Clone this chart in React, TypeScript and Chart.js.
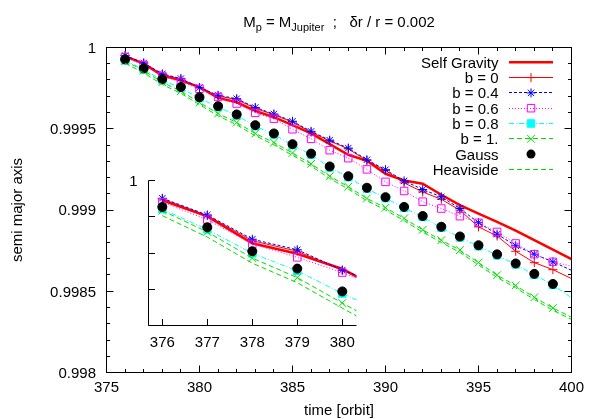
import React, { useEffect, useRef } from 'react';
import { Chart, registerables } from 'chart.js';
Chart.register(...registerables);

const time = [376, 377, 378, 379, 380, 381, 382, 383, 384, 385, 386, 387, 388, 389, 390, 391, 392, 393, 394, 395, 396, 397, 398, 399, 400];
const selfGravity = [0.999945, 0.999901, 0.999827, 0.999798, 0.999756, 0.99969, 0.999663, 0.99961, 0.999571, 0.999522, 0.999471, 0.999405, 0.99934, 0.999303, 0.999223, 0.999181, 0.999162, 0.999094, 0.99903, 0.998978, 0.998927, 0.998873, 0.998814, 0.998756, 0.998697];
const b00 = [0.999949, 0.999903, 0.999834, 0.999805, 0.999752, 0.999701, 0.99968, 0.999626, 0.999586, 0.999541, 0.999479, 0.999425, 0.999376, 0.999304, 0.999243, 0.999167, 0.999111, 0.999066, 0.998999, 0.998896, 0.99884, 0.998746, 0.998676, 0.998633, 0.998578];
const b04 = [0.999951, 0.999905, 0.999838, 0.999809, 0.999753, 0.999706, 0.999685, 0.999631, 0.999591, 0.999546, 0.999484, 0.99943, 0.999381, 0.999309, 0.999248, 0.999179, 0.999126, 0.999081, 0.999009, 0.998922, 0.998851, 0.99878, 0.998728, 0.998681, 0.998629];
const b06 = [0.99994, 0.999892, 0.999825, 0.999788, 0.999746, 0.999696, 0.999655, 0.999598, 0.999562, 0.999497, 0.999438, 0.999368, 0.999319, 0.99925, 0.999173, 0.999117, 0.999051, 0.999009, 0.998962, 0.998921, 0.998865, 0.998794, 0.998728, 0.998681, 0.998654];
const b08 = [0.999921, 0.999865, 0.999799, 0.999751, 0.999688, 0.999633, 0.999582, 0.999516, 0.999465, 0.999399, 0.999341, 0.999262, 0.999202, 0.999131, 0.999073, 0.999013, 0.998957, 0.998891, 0.998831, 0.998777, 0.998721, 0.998665, 0.998601, 0.998539, 0.99846];
const b10 = [0.999917, 0.999858, 0.999786, 0.999732, 0.999662, 0.999594, 0.999538, 0.999471, 0.999415, 0.999351, 0.999284, 0.999208, 0.999143, 0.999071, 0.999014, 0.998948, 0.998878, 0.998814, 0.998753, 0.998676, 0.998599, 0.998535, 0.998463, 0.998397, 0.99834];
const gauss = [0.999927, 0.999871, 0.999805, 0.999757, 0.999694, 0.999639, 0.999588, 0.999522, 0.999471, 0.999405, 0.999347, 0.999268, 0.999208, 0.999137, 0.999079, 0.999019, 0.998963, 0.998897, 0.998837, 0.998783, 0.998727, 0.998671, 0.998607, 0.998545];
const heaviside = [0.999903, 0.999844, 0.999772, 0.999718, 0.999648, 0.99958, 0.999524, 0.999457, 0.999401, 0.999337, 0.99927, 0.999194, 0.999129, 0.999057, 0.999, 0.998934, 0.998864, 0.9988, 0.998739, 0.998662, 0.998585, 0.998521, 0.998449, 0.998383, 0.998326];

const seriesNames = ['Self Gravity', 'b = 0', 'b = 0.4', 'b = 0.6', 'b = 0.8', 'b = 1.', 'Gauss', 'Heaviside'];
const seriesValues = [selfGravity, b00, b04, b06, b08, b10, gauss, heaviside];

const xMajorLabels = ['375', '380', '385', '390', '395', '400'];
const xMajorValues = [375, 380, 385, 390, 395, 400];
const yMajorLabels = ['0.998', '0.9985', '0.999', '0.9995', '1'];
const yMajorValues = [0.998, 0.9985, 0.999, 0.9995, 1];
const insetXLabels = ['376', '377', '378', '379', '380'];
const insetXValues = [376, 377, 378, 379, 380];
const insetYValues = [0.9996, 0.9997, 0.9998, 0.9999, 1];
const insetYLabels = ['', '', '', '', '1'];

const GREEN = '#00dd00';
const FONT = '"Liberation Sans", Arial, Helvetica, sans-serif';

type Style = {
  color: string; width: number; dash: number[]; marker: string; size: number; fill: boolean; line: boolean;
};
const styles: Style[] = [
  { color: '#ff0000', width: 2.5, dash: [], marker: 'none', size: 0, fill: false, line: true },
  { color: '#ff0000', width: 1, dash: [], marker: 'cross', size: 4.5, fill: false, line: true },
  { color: '#0000ff', width: 1, dash: [3, 2], marker: 'star', size: 4.5, fill: false, line: true },
  { color: '#ff00ff', width: 1, dash: [1, 2], marker: 'rect', size: 5.3, fill: false, line: true },
  { color: '#00ffff', width: 1, dash: [5, 2, 1, 2], marker: 'rect', size: 5.3, fill: true, line: true },
  { color: GREEN, width: 1, dash: [5, 3], marker: 'crossRot', size: 5.5, fill: false, line: true },
  { color: '#000000', width: 1, dash: [], marker: 'circle', size: 4.5, fill: true, line: false },
  { color: GREEN, width: 1, dash: [5, 3], marker: 'none', size: 0, fill: false, line: true },
];

function buildDatasets(clip: any) {
  return seriesValues.map((vals, i) => {
    const s = styles[i];
    const data = vals.map((v, k) => ({ x: time[k], y: v }));
    return {
      label: seriesNames[i],
      data,
      borderColor: s.color,
      backgroundColor: s.color,
      borderWidth: s.width,
      borderDash: s.dash,
      showLine: s.line,
      tension: 0,
      pointStyle: s.marker === 'none' ? false : s.marker,
      pointRadius: (c: any) => (s.marker === 'none' || (c.raw && c.raw.x >= 400) ? 0 : s.size),
      pointBorderWidth: 1,
      pointBorderColor: s.color,
      pointBackgroundColor: s.fill ? s.color : 'rgba(0,0,0,0)',
      order: 10 - i,
      clip,
    };
  });
}

function drawMarker(ctx: CanvasRenderingContext2D, s: Style, x: number, y: number) {
  const r = s.size;
  ctx.save();
  ctx.setLineDash([]);
  ctx.lineWidth = 1;
  ctx.strokeStyle = s.color;
  ctx.fillStyle = s.color;
  ctx.beginPath();
  if (s.marker === 'cross') {
    ctx.moveTo(x - r, y); ctx.lineTo(x + r, y); ctx.moveTo(x, y - r); ctx.lineTo(x, y + r); ctx.stroke();
  } else if (s.marker === 'star') {
    const d = r * Math.SQRT1_2;
    ctx.moveTo(x - r, y); ctx.lineTo(x + r, y); ctx.moveTo(x, y - r); ctx.lineTo(x, y + r);
    ctx.moveTo(x - d, y - d); ctx.lineTo(x + d, y + d); ctx.moveTo(x - d, y + d); ctx.lineTo(x + d, y - d); ctx.stroke();
  } else if (s.marker === 'crossRot') {
    const d = r * Math.SQRT1_2;
    ctx.moveTo(x - d, y - d); ctx.lineTo(x + d, y + d); ctx.moveTo(x - d, y + d); ctx.lineTo(x + d, y - d); ctx.stroke();
  } else if (s.marker === 'rect') {
    const d = r * Math.SQRT1_2;
    ctx.rect(x - d, y - d, 2 * d, 2 * d);
    if (s.fill) ctx.fill();
    ctx.stroke();
  } else if (s.marker === 'circle') {
    ctx.arc(x, y, r, 0, Math.PI * 2);
    ctx.fill();
  }
  ctx.restore();
}

const snap = (v: number) => Math.round(v - 0.5) + 0.5;

const mainDecor = {
  id: 'mainDecor',
  beforeDatasetsDraw(chart: any) {
    const { ctx, chartArea: a, scales } = chart;
    const xs = scales.x, ys = scales.y;
    ctx.save();
    ctx.strokeStyle = '#000';
    ctx.lineWidth = 1;
    ctx.setLineDash([]);
    ctx.strokeRect(a.left, a.top, a.right - a.left, a.bottom - a.top);
    ctx.beginPath();
    for (let k = 0; k <= 25; k++) {
      const px = snap(xs.getPixelForValue(375 + k));
      const len = k % 5 === 0 ? 7 : 3.5;
      ctx.moveTo(px, a.bottom); ctx.lineTo(px, a.bottom - len);
      ctx.moveTo(px, a.top); ctx.lineTo(px, a.top + len);
    }
    for (let k = 0; k <= 20; k++) {
      const py = snap(ys.getPixelForValue(0.998 + k * 0.0001));
      const len = k % 5 === 0 ? 7 : 3.5;
      ctx.moveTo(a.left, py); ctx.lineTo(a.left + len, py);
      ctx.moveTo(a.right, py); ctx.lineTo(a.right - len, py);
    }
    ctx.stroke();
    ctx.fillStyle = '#000';
    ctx.font = `15px ${FONT}`;
    ctx.textBaseline = 'alphabetic';
    ctx.textAlign = 'center';
    xMajorValues.forEach((v, i) => {
      ctx.fillText(xMajorLabels[i], xs.getPixelForValue(v), 392);
    });
    ctx.textAlign = 'right';
    yMajorValues.forEach((v, i) => {
      ctx.fillText(yMajorLabels[i], 96, ys.getPixelForValue(v) + 5.4);
    });
    ctx.textAlign = 'center';
    ctx.fillText('time [orbit]', (a.left + a.right) / 2, 415);
    ctx.save();
    ctx.translate(22, (a.top + a.bottom) / 2);
    ctx.rotate(-Math.PI / 2);
    ctx.fillText('semi major axis', 0, 0);
    ctx.restore();
    const big = `15px ${FONT}`;
    const small = `11px ${FONT}`;
    const parts: [string, string, number][] = [
      ['M', big, 0], ['p', small, 4], [' = M', big, 0], ['Jupiter', small, 4], ['  ;   \u03b4r / r = 0.002', big, 0],
    ];
    let total = 0;
    parts.forEach(([t, f]) => { ctx.font = f; total += ctx.measureText(t).width; });
    let x = (a.left + a.right) / 2 - total / 2;
    ctx.textAlign = 'left';
    parts.forEach(([t, f, dy]) => {
      ctx.font = f;
      ctx.fillText(t, x, 27 + dy);
      x += ctx.measureText(t).width;
    });
    ctx.restore();
  },
  afterDraw(chart: any) {
    const { ctx } = chart;
    ctx.save();
    ctx.font = `15px ${FONT}`;
    ctx.textAlign = 'right';
    ctx.textBaseline = 'alphabetic';
    seriesNames.forEach((name, i) => {
      const y = 62.3 + i * 15.3;
      const s = styles[i];
      ctx.fillStyle = '#000';
      ctx.fillText(name, 498.5, y + 5.4);
      if (s.line) {
        ctx.save();
        ctx.strokeStyle = s.color;
        ctx.lineWidth = s.width;
        ctx.setLineDash(s.dash);
        ctx.beginPath();
        const yy = s.width === 1 ? snap(y) : y;
        ctx.moveTo(509, yy); ctx.lineTo(553, yy);
        ctx.stroke();
        ctx.restore();
      }
      if (s.marker !== 'none') drawMarker(ctx, s, 531, y);
    });
    ctx.restore();
  },
};

const insetDecor = {
  id: 'insetDecor',
  beforeDatasetsDraw(chart: any) {
    const { ctx, chartArea: a, scales } = chart;
    const xs = scales.x, ys = scales.y;
    ctx.save();
    ctx.strokeStyle = '#000';
    ctx.lineWidth = 1;
    ctx.setLineDash([]);
    ctx.beginPath();
    ctx.moveTo(a.left, a.top); ctx.lineTo(a.left, a.bottom); ctx.lineTo(a.right, a.bottom);
    insetXValues.forEach((v) => {
      const px = snap(xs.getPixelForValue(v));
      ctx.moveTo(px, a.bottom); ctx.lineTo(px, a.bottom - 6.5);
    });
    insetYValues.forEach((v) => {
      const py = snap(ys.getPixelForValue(v));
      ctx.moveTo(a.left, py); ctx.lineTo(a.left + 6.5, py);
    });
    ctx.stroke();
    ctx.fillStyle = '#000';
    ctx.font = `15px ${FONT}`;
    ctx.textAlign = 'center';
    insetXValues.forEach((v, i) => {
      ctx.fillText(insetXLabels[i], xs.getPixelForValue(v), 347);
    });
    ctx.textAlign = 'right';
    insetYValues.forEach((v, i) => {
      if (insetYLabels[i]) ctx.fillText(insetYLabels[i], 137.5, ys.getPixelForValue(v) + 5.4);
    });
    ctx.restore();
  },
};

export default function App() {
  const mainRef = useRef<HTMLCanvasElement>(null);
  const insetRef = useRef<HTMLCanvasElement>(null);
  useEffect(() => {
    const common = {
      animation: false as const,
      responsive: false,
      events: [],
      plugins: { legend: { display: false }, tooltip: { enabled: false }, title: { display: false } },
    };
    const main = new Chart(mainRef.current!, {
      type: 'line',
      data: { datasets: buildDatasets(undefined) as any },
      options: {
        ...common,
        layout: { padding: { left: 106.5, right: 26.5, top: 47.5, bottom: 46.5 } },
        scales: {
          x: { type: 'linear', min: 375, max: 400, display: false },
          y: { type: 'linear', min: 0.998, max: 1.0, display: false },
        },
      } as any,
      plugins: [mainDecor],
    });
    const inset = new Chart(insetRef.current!, {
      type: 'line',
      data: { datasets: buildDatasets(0) as any },
      options: {
        ...common,
        layout: { padding: { left: 148.5, right: 241.5, top: 180.5, bottom: 93.5 } },
        scales: {
          x: { type: 'linear', min: 375.693, max: 380.316, display: false },
          y: { type: 'linear', min: 0.9996, max: 1.0, display: false },
        },
      } as any,
      plugins: [insetDecor],
    });
    return () => { main.destroy(); inset.destroy(); };
  }, []);
  return (
    <div style={{ position: 'fixed', left: 0, top: 0, width: 598, height: 419, background: '#fff' }}>
      <canvas ref={mainRef} width={598} height={419} style={{ position: 'absolute', left: 0, top: 0 }} />
      <canvas ref={insetRef} width={598} height={419} style={{ position: 'absolute', left: 0, top: 0 }} />
    </div>
  );
}
